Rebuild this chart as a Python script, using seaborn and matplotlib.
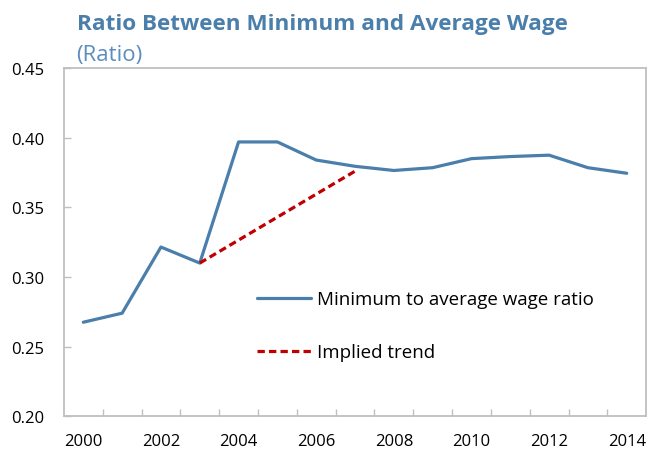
import matplotlib
matplotlib.use("Agg")
import matplotlib.pyplot as plt
import pandas as pd
import seaborn as sns
from matplotlib.ticker import FixedLocator

years = list(range(2000, 2015))
wage_ratio = [0.2675, 0.274, 0.3215, 0.310, 0.397, 0.397, 0.384, 0.3795,
              0.3765, 0.3785, 0.385, 0.3865, 0.3875, 0.3785, 0.3745]
trend_years = [2003, 2007]
trend_values = [0.310, 0.376]
xtick_labels = ["2000", "2002", "2004", "2006", "2008", "2010", "2012", "2014"]
ytick_values = [0.20, 0.25, 0.30, 0.35, 0.40, 0.45]

sns.set_theme(style="white")
plt.rcParams["font.family"] = ["Open Sans", "DejaVu Sans"]

df = pd.DataFrame({"year": years, "ratio": wage_ratio})
trend = pd.DataFrame({"year": trend_years, "ratio": trend_values})

fig = plt.figure(figsize=(6.52, 4.52), dpi=100)
ax = fig.add_axes([0.098, 0.077, 0.893, 0.770])

blue = "#4A7EAB"
red = "#C00000"
sns.lineplot(data=df, x="year", y="ratio", ax=ax, color=blue, linewidth=2.3,
             label="Minimum to average wage ratio")
sns.lineplot(data=trend, x="year", y="ratio", ax=ax, color=red, linewidth=2.3,
             linestyle=(0, (2.3, 1.3)), label="Implied trend")

ax.set_xlim(1999.5, 2014.5)
ax.set_ylim(0.20, 0.45)
ax.set_xticks([int(t) for t in xtick_labels])
ax.set_xticklabels(xtick_labels)
ax.xaxis.set_minor_locator(FixedLocator([y + 0.5 for y in years[:-1]]))
ax.set_yticks(ytick_values)
ax.set_yticklabels([f"{v:.2f}" for v in ytick_values])
ax.tick_params(axis="x", which="major", length=0, pad=12, labelsize=12, colors="black")
ax.tick_params(axis="x", which="minor", direction="in", length=5, width=1,
               color="#BFBFBF", bottom=True)
ax.tick_params(axis="y", direction="in", length=5, width=1, color="#BFBFBF",
               left=True, labelsize=12, labelcolor="black", pad=14)
ax.set_xlabel("")
ax.set_ylabel("")
for s in ax.spines.values():
    s.set_color("#BFBFBF")
    s.set_linewidth(1.3)

ax.legend(loc="upper left", bbox_to_anchor=(0.332, 0.362), frameon=False,
          fontsize=13.5, handlelength=2.85, handletextpad=0.32, labelspacing=1.87,
          borderpad=0, borderaxespad=0, labelcolor="black")

fig.text(0.118, 0.934, "Ratio Between Minimum and Average Wage", fontsize=16.2,
         fontweight="bold", color=blue, va="baseline")
fig.text(0.117, 0.866, "(Ratio)", fontsize=16, color="#5B8DBE", va="baseline")

fig.savefig("out.png", dpi=100)
